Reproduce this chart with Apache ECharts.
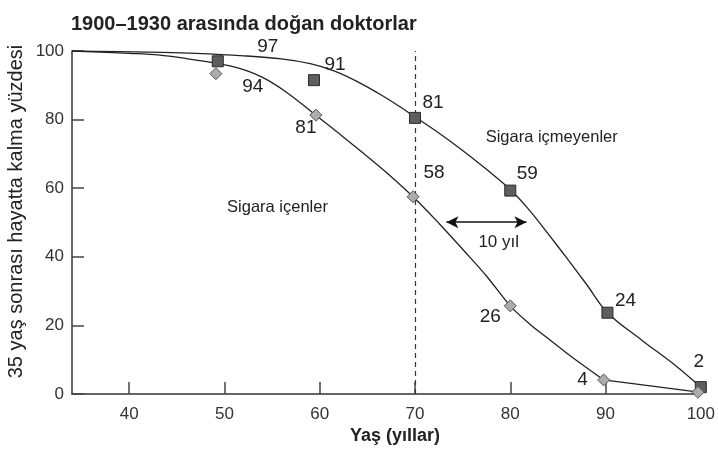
<!DOCTYPE html>
<html><head><meta charset="utf-8">
<script src="https://cdn.jsdelivr.net/npm/echarts@6/dist/echarts.min.js"></script>
<style>html,body{margin:0;padding:0;background:#fff}#c{width:718px;height:450px}</style>
</head><body><div id="c"></div>
<script>
// ---- data ----
const xTicks = [40, 50, 60, 70, 80, 90, 100];
// non-smokers (squares)
const nsAge = [49.3, 59.4, 70, 80, 90.2, 100];
const nsVal = [97, 91.5, 80.5, 59.3, 23.7, 2];
const nsLabel = ['97', '91', '81', '59', '24', '2'];
// smokers (diamonds)
const smAge = [49.1, 59.6, 69.8, 80, 89.8, 99.7];
const smVal = [93.4, 81.3, 57.5, 25.7, 4.1, 0.5];
const smLabel = ['94', '81', '58', '26', '4', ''];
// fitted curve, non-smokers
const nsCurveX = [34, 42, 47, 52, 56, 59, 61.5, 64, 66.5, 68.5, 70, 72.5, 75, 77.5, 80, 82, 84, 86, 88, 90.2, 93.8, 97.3, 100];
const nsCurveY = [100, 99.7, 99.3, 98.6, 97.7, 96.3, 94.2, 91.0, 87.1, 83.6, 80.8, 76.1, 71.0, 65.5, 59.6, 53.6, 46.6, 39.4, 32.0, 23.7, 15.7, 8.4, 2];
// fitted curve, smokers
const smCurveX = [34, 40, 43.2, 46, 49, 51.5, 54, 56.5, 59.6, 62, 64.5, 67, 69.8, 72.5, 75, 77.5, 80, 82, 84, 86.5, 89.8];
const smCurveY = [100, 99.3, 98.8, 97.8, 96.5, 95.0, 92.3, 88.0, 81.3, 76.0, 70.4, 64.6, 57.5, 49.8, 42.2, 34.4, 25.7, 20.5, 16.1, 10.7, 4.1];
const smTailX = [89.8, 100];
const smTailY = [4.1, 0.5];
// reference line and "10 yıl" arrow
const refAge = 70;
const arrowFrom = [73.3, 50.1];
const arrowTo = [81.7, 50.1];

// ---- label placement (style only) ----
const nsOffsets = [[50, -15], [21, -15], [18, -15], [17, -17], [18, -12], [-2, -25]];
const smOffsets = [[37, 13], [-10, 13], [21, -24], [-20, 11], [-21, 0], [0, 0]];

const zip = (xs, ys) => xs.map((x, i) => [x, ys[i]]);
const font = "'Liberation Sans', Arial, Helvetica, sans-serif";

const chart = echarts.init(document.getElementById('c'), null, {renderer: 'canvas'});
chart.setOption({
  animation: false,
  backgroundColor: '#fff',
  title: {
    text: '1900–1930 arasında doğan doktorlar',
    left: 66, top: 9,
    textStyle: {fontFamily: font, fontWeight: 'bold', fontSize: 20, color: '#222'}
  },
  grid: {left: 72, right: 12, top: 51, bottom: 56},
  xAxis: {
    type: 'value', min: 34, max: 100,
    axisLine: {lineStyle: {color: '#333', width: 1.5}},
    axisTick: {inside: true, length: 12, customValues: xTicks, lineStyle: {color: '#444', width: 1.5}},
    axisLabel: {customValues: xTicks, margin: 12, fontFamily: font, fontSize: 17, color: '#333'},
    splitLine: {show: false}
  },
  yAxis: {
    type: 'value', min: 0, max: 100, interval: 20,
    axisLine: {show: true, lineStyle: {color: '#333', width: 1.5}},
    axisTick: {show: true, inside: true, length: 12, lineStyle: {color: '#444', width: 1.5}},
    axisLabel: {margin: 8, fontFamily: font, fontSize: 17, color: '#333'},
    splitLine: {show: false}
  },
  graphic: [
    {type: 'text', x: 16.5, y: 211.5, rotation: Math.PI / 2,
     style: {text: '35 yaş sonrası hayatta kalma yüzdesi', font: '20px ' + font, fill: '#222', textAlign: 'center', textVerticalAlign: 'middle'}},
    {type: 'text', x: 395, y: 436,
     style: {text: 'Yaş (yıllar)', font: 'bold 18px ' + font, fill: '#222', textAlign: 'center', textVerticalAlign: 'middle'}},
    {type: 'text', x: 551.7, y: 137,
     style: {text: 'Sigara içmeyenler', font: '16.5px ' + font, fill: '#222', textAlign: 'center', textVerticalAlign: 'middle'}},
    {type: 'text', x: 277.5, y: 207,
     style: {text: 'Sigara içenler', font: '16.5px ' + font, fill: '#222', textAlign: 'center', textVerticalAlign: 'middle'}},
    {type: 'text', x: 498.7, y: 242,
     style: {text: '10 yıl', font: '17px ' + font, fill: '#222', textAlign: 'center', textVerticalAlign: 'middle'}}
  ],
  series: [
    {
      type: 'line', data: zip(nsCurveX, nsCurveY), smooth: 0.35, showSymbol: false, silent: true,
      lineStyle: {color: '#222', width: 1.3}, z: 2,
      markLine: {
        silent: true, symbol: ['none', 'none'], label: {show: false},
        lineStyle: {color: '#333', width: 1.2, type: [5, 4]},
        data: [[{coord: [refAge, 0]}, {coord: [refAge, 100]}]]
      }
    },
    {
      type: 'line', data: zip(smCurveX, smCurveY), smooth: 0.35, showSymbol: false, silent: true,
      lineStyle: {color: '#222', width: 1.3}, z: 2,
      markLine: {
        silent: true, symbol: ['arrow', 'arrow'], symbolSize: [9, 12], label: {show: false},
        lineStyle: {color: '#111', width: 1.5, type: 'solid'},
        data: [[{coord: arrowFrom}, {coord: arrowTo}]]
      }
    },
    {
      type: 'line', data: zip(smTailX, smTailY), smooth: false, showSymbol: false, silent: true,
      lineStyle: {color: '#222', width: 1.3}, z: 2
    },
    {
      type: 'scatter', symbol: 'rect', symbolSize: 11, z: 5,
      itemStyle: {color: '#5e5e5e', borderColor: '#2a2a2a', borderWidth: 1, opacity: 1},
      label: {show: true, position: 'inside', fontFamily: font, fontSize: 19, color: '#222',
              formatter: p => nsLabel[p.dataIndex]},
      data: nsAge.map((a, i) => ({value: [a, nsVal[i]], label: {offset: nsOffsets[i]}}))
    },
    {
      type: 'scatter', symbol: 'diamond', symbolSize: [12, 12], z: 5,
      itemStyle: {color: '#acacac', borderColor: '#555', borderWidth: 1, opacity: 1},
      label: {show: true, position: 'inside', fontFamily: font, fontSize: 19, color: '#222',
              formatter: p => smLabel[p.dataIndex]},
      data: smAge.map((a, i) => ({value: [a, smVal[i]], label: {offset: smOffsets[i]}}))
    }
  ]
});
</script>
</body></html>
